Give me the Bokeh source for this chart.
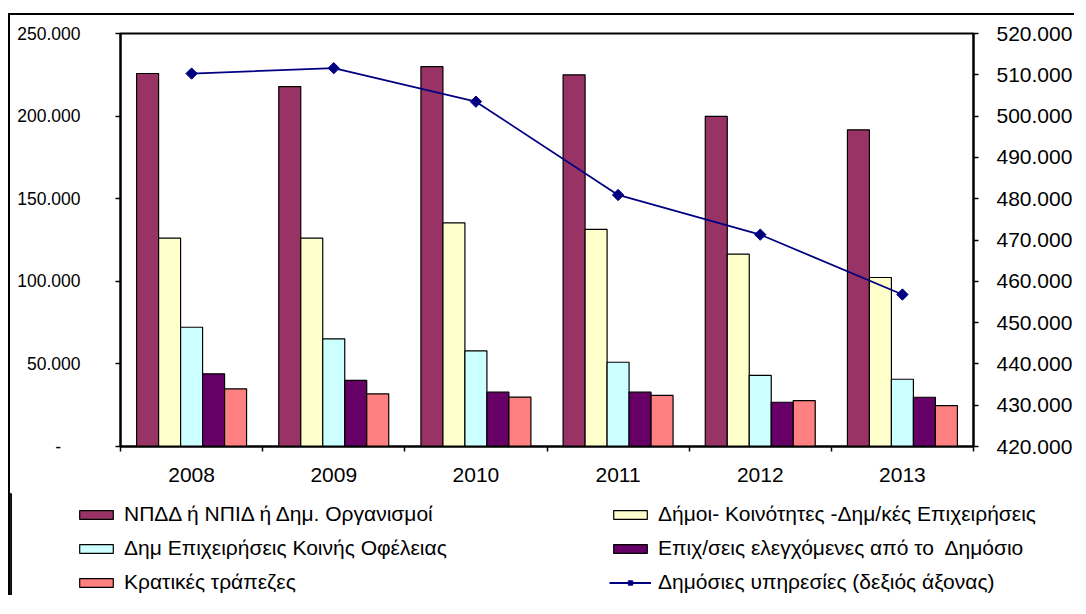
import math
from bokeh.plotting import figure
from bokeh.models import (Range1d, LinearAxis, FixedTicker,
                          Legend, LegendItem, ColumnDataSource)
from bokeh.transform import dodge
from bokeh.embed import file_html
from bokeh.resources import INLINE

# ---------------- data ----------------
years = ["2008", "2009", "2010", "2011", "2012", "2013"]
npdd = [225800, 217900, 230000, 225000, 199800, 191700]
dimoi = [126100, 126100, 135400, 131400, 116400, 102300]
dim_epix = [72200, 65200, 57900, 51000, 43000, 40700]
epix_elegx = [44000, 40000, 32900, 32900, 26800, 29800]
kratikes = [34900, 31900, 29900, 30900, 27800, 24800]
dimosies = [510300, 511600, 503500, 480900, 471300, 456800]

series_names = [
    "ΝΠΔΔ ή ΝΠΙΔ ή Δημ. Οργανισμοί",
    "Δήμοι- Κοινότητες -Δημ/κές Επιχειρήσεις",
    "Δημ Επιχειρήσεις Κοινής Οφέλειας",
    "Επιχ/σεις ελεγχόμενες από το  Δημόσιο",
    "Κρατικές τράπεζες",
]
line_name = "Δημόσιες υπηρεσίες (δεξιός άξονας)"

left_ticks = [0, 50000, 100000, 150000, 200000, 250000]
left_labels = ["-\u00a0\u00a0\u00a0\u00a0", "50.000", "100.000", "150.000", "200.000", "250.000"]
right_ticks = [420000, 430000, 440000, 450000, 460000, 470000, 480000, 490000, 500000, 510000, 520000]
right_labels = ["420.000", "430.000", "440.000", "450.000", "460.000", "470.000",
                "480.000", "490.000", "500.000", "510.000", "520.000"]

colors = ["#993366", "#FFFFCC", "#CCFFFF", "#660066", "#FF8080"]
line_color = "#000080"
FONT = "Liberation Sans"
FS_LEFT = "17.5px"
FS = "21px"
W = 1066

n = len(years)
xpos = [k + 0.5 for k in range(n)]          # category centres on a numeric axis
src = ColumnDataSource(dict(x=xpos, year=years, s0=npdd, s1=dimoi, s2=dim_epix,
                            s3=epix_elegx, s4=kratikes, line=dimosies))

p = figure(x_range=Range1d(0, n), y_range=Range1d(0, 250000),
           width=W, height=480, output_backend="svg", toolbar_location=None,
           x_axis_location=None, y_axis_location=None,
           min_border_left=110, min_border_right=103, min_border_top=18, min_border_bottom=49)
p.styles = {"border-top": "2px solid black", "border-left": "2px solid black",
            "margin-top": "13px", "margin-left": "8px"}
p.grid.visible = False
p.outline_line_color = "black"
p.outline_line_width = 2
p.background_fill_color = "white"
p.border_fill_color = "white"

p.extra_y_ranges = {"right": Range1d(420000, 520000)}

bw = 0.1547
start = -bw * 2.5
bar_style = []
bar_renderers = []
for i in range(5):
    off = start + bw * (i + 0.5)
    style = dict(fill_color=colors[i], line_color="black", line_width=1.2)
    bar_style.append(style)
    r = p.vbar(x=dodge("x", off), top="s%d" % i, width=bw, source=src, **style)
    bar_renderers.append(r)

line_style = dict(line_color=line_color, line_width=1.8)
mark_style = dict(marker="square", angle=math.pi / 4, size=8, fill_color=line_color, line_color=line_color)
lr = p.line(x="x", y="line", source=src, y_range_name="right", **line_style)
sr = p.scatter(x="x", y="line", source=src, y_range_name="right", **mark_style)

# left axis
la = LinearAxis(ticker=FixedTicker(ticks=left_ticks),
                major_label_overrides=dict(zip(left_ticks, left_labels)),
                major_tick_out=5, major_tick_in=0, minor_tick_line_color=None,
                major_label_standoff=35, axis_line_width=2, major_tick_line_width=1.5,
                major_label_text_font=FONT, major_label_text_font_size=FS_LEFT,
                major_label_text_color="black")
p.add_layout(la, "left")

# right axis
ra = LinearAxis(y_range_name="right", ticker=FixedTicker(ticks=right_ticks),
                major_label_overrides=dict(zip(right_ticks, right_labels)),
                major_tick_out=5, major_tick_in=0, minor_tick_line_color=None,
                major_label_standoff=18, axis_line_width=2, major_tick_line_width=1.5,
                major_label_text_font=FONT, major_label_text_font_size=FS,
                major_label_text_color="black")
p.add_layout(ra, "right")

# bottom tick axis (ticks at group boundaries)
ta = LinearAxis(ticker=FixedTicker(ticks=list(range(n + 1))),
                major_tick_out=5, major_tick_in=0, minor_tick_line_color=None,
                major_label_text_font_size="0px", major_label_standoff=0,
                axis_line_width=2, major_tick_line_width=1.5)
p.add_layout(ta, "below")

# year labels at group centres
ca = LinearAxis(ticker=FixedTicker(ticks=xpos),
                major_label_overrides=dict(zip(xpos, years)),
                axis_line_color=None, major_tick_line_color=None, minor_tick_line_color=None,
                major_tick_out=0, major_tick_in=0, major_label_standoff=16,
                major_label_text_font=FONT, major_label_text_font_size=FS,
                major_label_text_color="black")
p.add_layout(ca, "below")

# ---------------- legend strip (separate root, full-width frame) ----------------
lf = figure(x_range=Range1d(100, 101), y_range=Range1d(0, 1), width=W, height=102,
            output_backend="svg", toolbar_location=None,
            x_axis_location=None, y_axis_location=None,
            min_border_left=0, min_border_right=0, min_border_top=0, min_border_bottom=0)
lf.styles = {"border-left": "2px solid black", "margin-left": "8px"}
lf.grid.visible = False
lf.outline_line_color = None
lf.background_fill_color = "white"
lf.border_fill_color = "white"

# legend proxies: same sources/styles, ranges keep the marks themselves out of view
leg_r = [lf.vbar(x=dodge("x", start + bw * (i + 0.5)), top="s%d" % i, width=bw, source=src,
                 **bar_style[i]) for i in range(5)]
leg_l = lf.line(x="x", y="line", source=src, **line_style)
leg_s = lf.scatter(x="x", y="line", source=src, **mark_style)

items = [LegendItem(label=series_names[i], renderers=[leg_r[i]]) for i in range(5)]
items.append(LegendItem(label=line_name, renderers=[leg_l, leg_s]))
legend = Legend(items=items, orientation="horizontal", ncols=2, location=(65, 1),
                glyph_width=42, glyph_height=11, label_height=24, label_width=475,
                label_standoff=7, spacing=10, padding=0, margin=0,
                border_line_color=None, background_fill_alpha=0,
                label_text_font=FONT, label_text_font_size=FS, label_text_color="black")
lf.add_layout(legend, "center")

open("out.html", "w").write(file_html([p, lf], INLINE))
